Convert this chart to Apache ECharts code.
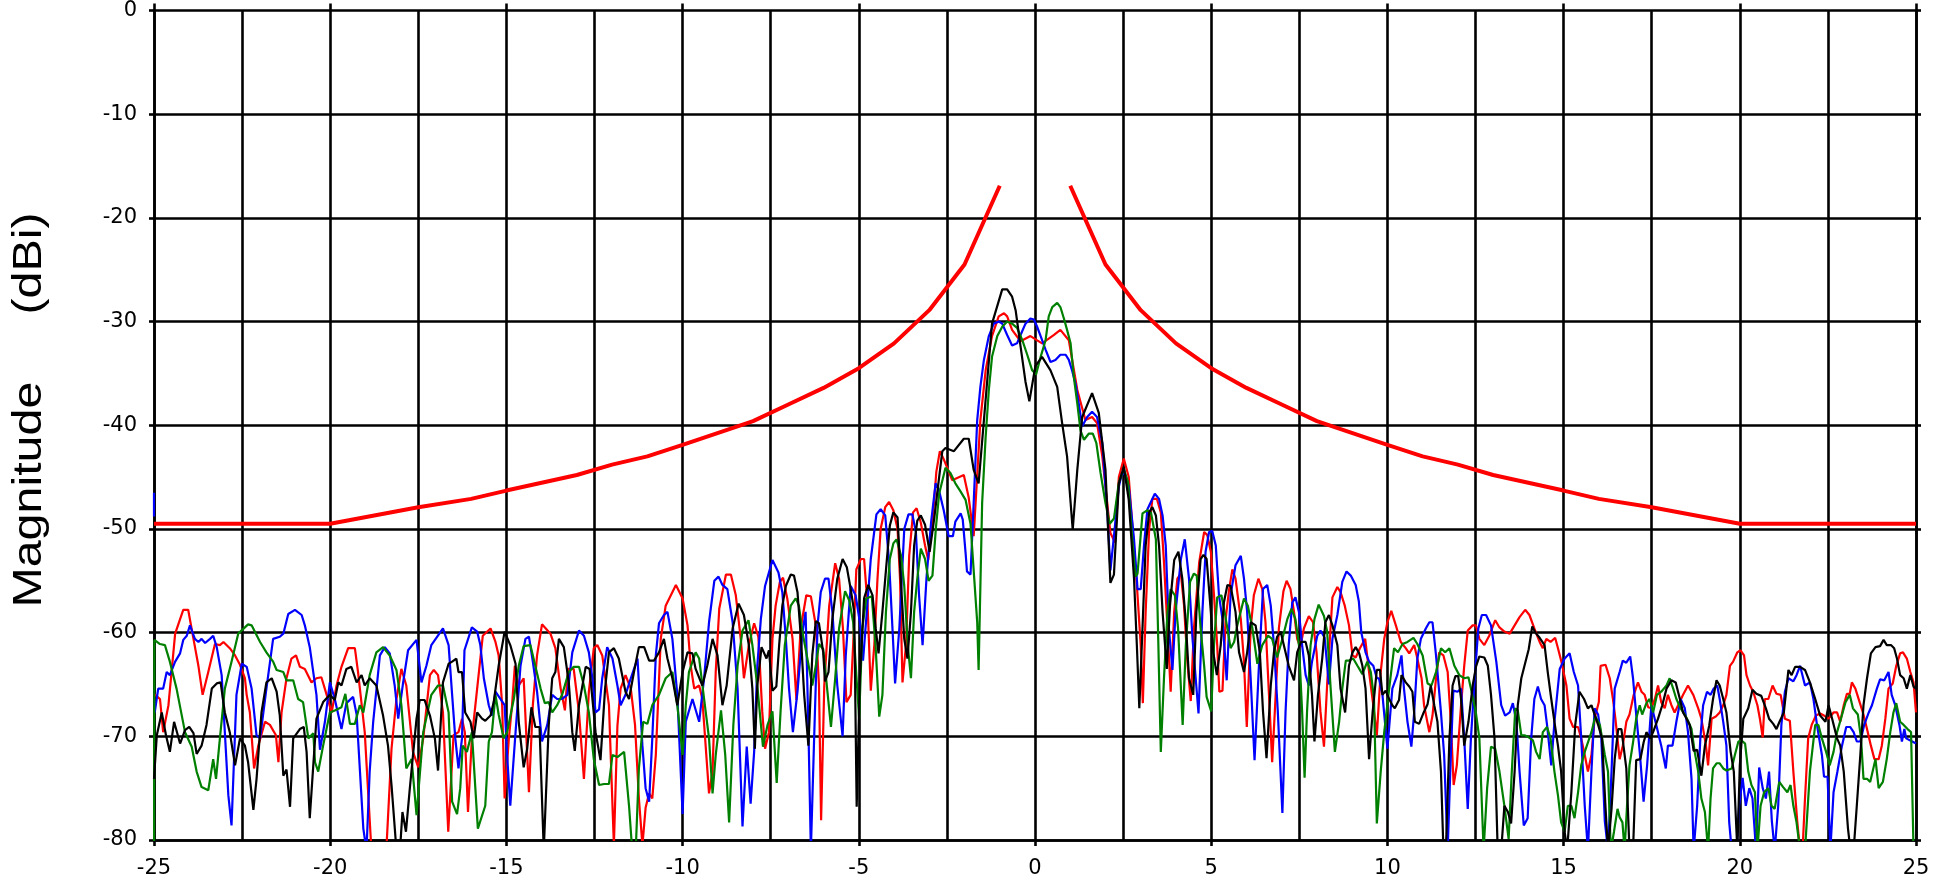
<!DOCTYPE html>
<html>
<head>
<meta charset="utf-8">
<script src="https://cdn.jsdelivr.net/npm/echarts@6/dist/echarts.min.js"></script>
<style>
html,body{margin:0;padding:0;background:#fff;}
#chart{width:1939px;height:879px;}
</style>
</head>
<body>
<div id="chart"></div>
<script>
// Axis ticks
const xMin = -25, xMax = 25, xGridStep = 2.5, xLabelStep = 5;
const yMin = -80, yMax = 0, yStep = 10;
const yTitle = 'Magnitude     (dBi)';

// Mask (thick red envelope); null = gap
const maskAngle = [-25,-20,-17.5,-16,-15,-13,-12,-11,-10,-8,-7,-6,-5,-4,-3,-2,-1,0,1,2,3,4,5,6,7,8,10,11,12,13,15,16,17.5,20,25];
const maskLevel = [-49.5,-49.5,-47.9,-47.1,-46.3,-44.8,-43.8,-43.0,-41.9,-39.6,-38.0,-36.4,-34.5,-32.1,-28.9,-24.5,-16.9,null,-16.9,-24.5,-28.9,-32.1,-34.5,-36.4,-38.0,-39.6,-41.9,-43.0,-43.8,-44.8,-46.3,-47.1,-47.9,-49.5,-49.5];

// Measured traces: [angle, dBi]  ('-' = gap)
const redTrace = [[-25.00,-65.9],[-24.83,-66.4],[-24.74,-69.6],[-24.59,-67.0],[-24.40,-60.1],[-24.17,-57.8],[-24.03,-57.8],[-23.88,-60.6],[-23.74,-63.2],[-23.62,-66.0],[-23.46,-63.8],[-23.27,-61.1],[-23.13,-61.2],[-23.03,-60.9],[-22.85,-61.5],[-22.70,-62.2],[-22.56,-63.1],[-22.42,-64.4],[-22.37,-66.0],[-22.28,-67.7],[-22.16,-73.1],[-22.04,-70.9],[-21.85,-68.6],[-21.71,-68.9],[-21.54,-69.9],[-21.47,-72.5],[-21.38,-67.7],[-21.24,-64.4],[-21.10,-62.5],[-20.97,-62.2],[-20.86,-63.3],[-20.72,-63.5],[-20.53,-64.8],[-20.39,-64.4],[-20.25,-64.3],[-20.10,-66.0],[-19.96,-67.7],[-19.82,-65.1],[-19.68,-63.3],[-19.49,-61.5],[-19.30,-61.5],[-19.21,-63.8],[-19.02,-69.6],[-18.83,-81],[-18.59,-81],[-18.40,-80.5],[-18.26,-71.2],[-18.12,-66.4],[-17.98,-63.5],[-17.84,-65.1],[-17.65,-71.5],[-17.50,-73.0],[-17.36,-70.2],[-17.17,-64.1],[-17.06,-63.6],[-16.94,-64.1],[-16.80,-67.7],[-16.65,-79.2],
[-16.50,-69.9],[-16.36,-69.6],[-16.26,-68.3],[-16.18,-69.6],[-16.09,-77.3],[-15.98,-70.2],[-15.83,-65.4],[-15.67,-60.3],[-15.45,-59.6],[-15.31,-60.9],[-15.22,-62.2],[-15.12,-67.0],[-15.05,-76.0],[-14.93,-70.2],[-14.84,-67.0],[-14.76,-63.2],[-14.65,-65.1],[-14.51,-64.4],[-14.36,-75.4],[-14.25,-67.0],[-14.13,-62.2],[-13.99,-59.2],[-13.75,-60.1],[-13.61,-61.5],[-13.46,-65.4],[-13.34,-67.5],[-13.25,-63.5],[-13.09,-63.5],[-12.94,-67.7],[-12.80,-74.1],[-12.66,-65.7],[-12.52,-61.5],[-12.42,-61.2],[-12.28,-62.2],[-12.09,-67.0],[-11.95,-80.5],[-11.85,-69.0],[-11.76,-65.4],[-11.62,-64.1],[-11.47,-65.4],[-11.35,-68.9],[-11.24,-76.0],[-11.14,-80.5],[-11.05,-76.9],[-10.95,-75.5],[-10.86,-76.0],[-10.76,-71.8],[-10.62,-60.6],[-10.48,-57.4],[-10.19,-55.4],[-10.00,-56.7],[-9.86,-59.3],[-9.77,-63.2],[-9.67,-65.4],[-9.53,-65.1],[-9.44,-66.4],[-9.25,-75.5],[-9.15,-73.4],[-9.06,-63.8],[-8.96,-57.7],[-8.77,-54.4],[-8.63,-54.4],[-8.49,-56.4],[-8.35,-60.6],
[-8.26,-64.4],[-8.12,-61.2],[-7.97,-59.1],[-7.85,-60.4],[-7.74,-67.6],[-7.66,-71.2],[-7.55,-69.6],[-7.45,-60.6],[-7.36,-57.4],[-7.24,-55.1],[-7.15,-54.7],[-7.03,-56.7],[-6.88,-60.6],[-6.77,-66.5],[-6.65,-59.6],[-6.49,-56.4],[-6.36,-56.5],[-6.22,-59.3],[-6.13,-65.1],[-6.07,-78.1],[-5.98,-65.1],[-5.84,-57.4],[-5.67,-53.3],[-5.56,-54.8],[-5.45,-59.6],[-5.35,-66.7],[-5.23,-66.0],[-5.16,-61.2],[-5.07,-53.9],[-4.94,-52.9],[-4.85,-52.9],[-4.75,-57.4],[-4.66,-65.6],[-4.56,-61.2],[-4.47,-54.8],[-4.38,-50.0],[-4.25,-47.9],[-4.14,-47.4],[-4.02,-48.2],[-3.90,-50.0],[-3.83,-54.8],[-3.76,-64.8],[-3.66,-61.2],[-3.57,-52.6],[-3.46,-48.4],[-3.36,-48.0],[-3.24,-49.4],[-3.12,-51.6],[-3.03,-53.0],[-2.91,-49.4],[-2.80,-44.5],
[-2.70,-42.5],[-2.60,-43.2],[-2.35,-45.3],[-2.02,-44.8],[-1.88,-47.0],[-1.74,-50.7],[-1.55,-39.5],[-1.40,-34.7],[-1.22,-31.4],[-1.03,-29.5],[-0.88,-29.2],[-0.79,-29.5],[-0.65,-30.8],[-0.41,-31.9],[-0.13,-31.4],[0.20,-32.1],[0.53,-31.3],[0.72,-30.8],[0.96,-31.8],[1.20,-36.6],[1.43,-39.5],[1.62,-39.2],[1.76,-39.8],[1.91,-43.0],[2.14,-50.4],[2.27,-51.3],[2.38,-45.0],[2.52,-43.2],[2.66,-45.0],[2.90,-55.9],[3.00,-61.2],[3.06,-66.8],[3.14,-58.0],[3.24,-50.0],[3.33,-47.1],[3.46,-47.1],[3.57,-48.4],[3.66,-53.2],[3.76,-59.6],[3.85,-65.7],[3.95,-58.0],[4.04,-54.8],[4.14,-54.3],[4.23,-57.4],[4.32,-62.6],[4.42,-66.6],[4.51,-59.6],[4.66,-53.2],[4.80,-50.3],[4.89,-50.6],[4.99,-52.2],[5.08,-56.4],[5.17,-61.2],[5.23,-65.7],[5.32,-65.6],[5.41,-58.7],[5.51,-55.8],[5.60,-53.9],[5.69,-54.8],[5.84,-58.7],[5.93,-62.8],[6.01,-69.1],[6.12,-59.6],[6.21,-56.4],[6.34,-54.8],[6.45,-55.8],[6.54,-59.0],[6.64,-66.0],[6.73,-72.5],[6.83,-66.0],[6.92,-59.6],[7.05,-56.0],[7.14,-55.0],[7.25,-55.8],[7.35,-58.0],[7.44,-60.6],[7.53,-61.4],[7.63,-59.6],[7.77,-58.4],[7.89,-59.0],[7.99,-61.9],[8.10,-67.6],[8.20,-71.0],[8.29,-65.0],
[8.44,-56.6],[8.58,-55.6],[8.67,-56.1],[8.79,-57.4],[8.91,-59.3],[9.01,-62.2],[9.10,-62.4],[9.22,-61.5],[9.37,-60.6],[9.48,-63.8],[9.60,-67.0],[9.70,-69.9],[9.81,-63.8],[9.91,-60.6],[10.00,-59.0],[10.11,-57.9],[10.24,-59.3],[10.38,-60.9],[10.52,-61.5],[10.62,-62.0],[10.76,-61.2],[10.85,-62.5],[10.97,-64.4],[11.04,-67.0],[11.19,-69.6],[11.28,-68.0],[11.38,-64.4],[11.47,-61.9],[11.59,-62.2],[11.71,-63.8],[11.80,-68.6],[11.88,-74.7],[11.97,-72.8],[12.09,-67.0],[12.18,-63.2],[12.28,-59.8],[12.42,-59.3],[12.51,-59.3],[12.61,-60.6],[12.75,-61.2],[12.89,-60.3],[13.06,-58.8],[13.18,-59.5],[13.32,-59.9],[13.47,-60.1],[13.61,-59.3],[13.75,-58.5],[13.91,-57.8],[14.03,-58.3],[14.17,-59.6],[14.32,-60.9],[14.41,-61.5],[14.51,-60.6],[14.63,-60.9],[14.76,-60.5],[14.84,-61.5],[14.93,-62.7],[15.08,-65.1],[15.17,-68.3],[15.27,-69.1],[15.41,-69.1],[15.50,-70.2],[15.60,-71.8],[15.69,-73.4],[15.79,-71.8],[15.88,-68.3],[16.00,-66.7],[16.05,-63.2],[16.19,-63.1],[16.31,-64.4],[16.40,-66.4],[16.47,-68.3],[16.59,-72.2],
[16.68,-70.9],[16.78,-68.6],[16.87,-67.9],[16.99,-66.0],[17.11,-64.8],[17.21,-65.7],[17.30,-66.0],[17.40,-67.2],[17.49,-67.3],[17.59,-66.4],[17.68,-65.1],[17.77,-66.7],[17.87,-67.3],[17.96,-66.0],[18.06,-67.0],[18.15,-67.7],[18.25,-67.0],[18.39,-66.0],[18.53,-65.1],[18.68,-66.0],[18.82,-67.3],[18.91,-68.3],[19.04,-70.9],[19.10,-72.8],[19.20,-68.3],[19.32,-68.1],[19.43,-67.7],[19.53,-67.0],[19.62,-66.0],[19.72,-63.2],[19.81,-62.8],[19.93,-61.9],[20.02,-61.7],[20.12,-62.2],[20.19,-64.1],[20.29,-65.1],[20.38,-65.7],[20.50,-67.0],[20.57,-68.3],[20.65,-70.1],[20.71,-66.4],[20.81,-66.4],[20.93,-65.1],[21.04,-65.9],[21.16,-66.0],[21.28,-68.3],[21.42,-68.5],[21.52,-73.4],[21.63,-78.2],[21.71,-81],[21.78,-81],[21.85,-76.0],[21.94,-70.2],[22.04,-68.9],[22.16,-68.0],[22.28,-67.8],[22.39,-68.0],[22.52,-68.3],[22.66,-67.7],[22.76,-67.7],[22.85,-68.6],[22.95,-67.0],[23.04,-65.9],[23.12,-65.9],[23.18,-64.8],[23.28,-65.4],[23.40,-66.7],[23.51,-67.9],[23.61,-69.3],[23.72,-70.9],[23.82,-72.2],[23.94,-72.2],[24.03,-70.9],[24.13,-68.3],[24.22,-65.4],[24.34,-64.9],[24.44,-63.2],[24.55,-62.0],[24.63,-61.9],[24.74,-62.5],[24.84,-63.8],[24.93,-64.8],[25.00,-67.7]];

const blueTrace = [[-25.00,-46.5],[-25.00,-48.8],[-25.00,'-'],[-24.98,-67.7],[-24.88,-65.4],[-24.74,-65.4],[-24.64,-63.8],[-24.55,-64.1],[-24.40,-62.8],[-24.26,-62.0],[-24.17,-60.7],[-24.07,-60.3],[-23.98,-59.3],[-23.84,-60.6],[-23.74,-60.9],[-23.65,-60.6],[-23.55,-61.0],[-23.41,-60.6],[-23.32,-60.3],[-23.22,-61.4],[-23.08,-64.1],[-22.89,-75.7],[-22.80,-78.6],[-22.66,-66.0],[-22.51,-63.0],[-22.37,-63.3],[-22.23,-65.4],[-22.09,-69.9],[-21.99,-70.2],[-21.81,-65.4],[-21.62,-60.6],[-21.43,-60.4],[-21.33,-60.1],[-21.19,-58.2],[-21.00,-57.8],[-20.81,-58.3],[-20.72,-59.3],[-20.58,-61.4],[-20.39,-66.0],[-20.29,-71.3],[-20.15,-68.6],[-20.01,-64.8],[-19.87,-66.4],[-19.68,-69.3],[-19.54,-66.8],[-19.35,-66.2],[-19.25,-67.9],[-19.06,-78.9],[-18.97,-81],[-18.88,-73.4],[-18.78,-68.6],[-18.59,-62.2],[-18.45,-61.4],[-18.31,-62.0],[-18.17,-65.1],[-18.07,-68.3],[-17.93,-64.8],[-17.79,-61.7],[-17.55,-60.7],[-17.41,-64.8],[-17.27,-63.2],[-17.13,-61.2],[-16.80,-59.6],
[-16.64,-61.2],[-16.54,-66.0],[-16.45,-70.2],[-16.36,-73.1],[-16.26,-70.2],[-16.19,-61.7],[-15.98,-59.5],[-15.83,-59.9],[-15.74,-61.2],[-15.64,-64.4],[-15.50,-67.0],[-15.41,-68.0],[-15.31,-65.7],[-15.17,-66.4],[-15.05,-67.0],[-14.98,-71.8],[-14.89,-76.7],[-14.74,-69.6],[-14.60,-63.2],[-14.46,-60.6],[-14.36,-60.4],[-14.25,-62.8],[-14.13,-65.7],[-13.99,-70.5],[-13.84,-68.9],[-13.70,-66.0],[-13.56,-66.4],[-13.42,-66.4],[-13.27,-66.0],[-13.13,-61.9],[-12.94,-59.8],[-12.80,-60.3],[-12.66,-61.9],[-12.56,-64.4],[-12.47,-67.7],[-12.37,-67.4],[-12.28,-64.4],[-12.14,-61.4],[-11.99,-62.5],[-11.85,-65.1],[-11.76,-67.0],[-11.62,-66.0],[-11.47,-64.4],[-11.28,-62.5],[-11.14,-70.9],[-11.05,-75.0],[-10.95,-76.3],[-10.86,-70.2],[-10.76,-62.2],[-10.67,-59.1],[-10.53,-58.3],[-10.43,-58.0],[-10.29,-60.6],[-10.15,-66.0],[-10.00,-77.5],[-9.91,-68.6],[-9.72,-66.4],[-9.53,-68.6],[-9.39,-64.4],[-9.25,-59.0],[-9.10,-55.0],[-8.98,-54.6],[-8.87,-55.4],[-8.73,-55.8],[-8.58,-59.0],[-8.44,-65.4],
[-8.30,-78.7],[-8.18,-71.0],[-8.07,-76.5],[-7.97,-71.5],[-7.88,-63.2],[-7.78,-58.7],[-7.66,-55.5],[-7.45,-53.0],[-7.28,-54.2],[-7.17,-56.1],[-7.07,-60.6],[-6.98,-65.4],[-6.87,-69.6],[-6.74,-65.7],[-6.60,-60.0],[-6.51,-58.0],[-6.43,-69.2],[-6.36,-81],[-6.27,-70.5],[-6.17,-59.3],[-6.08,-56.1],[-5.96,-54.8],[-5.86,-54.8],[-5.75,-58.0],[-5.61,-65.1],[-5.46,-70.0],[-5.37,-62.2],[-5.23,-55.5],[-5.09,-56.4],[-4.97,-59.0],[-4.88,-62.7],[-4.78,-58.3],[-4.66,-52.9],[-4.50,-48.6],[-4.38,-48.1],[-4.25,-48.7],[-4.14,-53.2],[-4.04,-59.9],[-3.97,-64.9],[-3.85,-59.6],[-3.71,-50.0],[-3.59,-48.6],[-3.48,-48.6],[-3.38,-50.3],[-3.29,-56.4],[-3.19,-61.2],[-3.08,-54.8],[-2.95,-49.4],
[-2.82,-45.6],[-2.73,-46.2],[-2.59,-48.2],[-2.45,-50.7],[-2.33,-50.7],[-2.26,-49.3],[-2.11,-48.5],[-2.05,-49.1],[-1.97,-52.3],[-1.93,-54.1],[-1.83,-54.4],[-1.74,-47.5],[-1.64,-39.5],[-1.55,-36.3],[-1.45,-33.7],[-1.31,-31.4],[-1.17,-30.2],[-1.03,-30.0],[-0.93,-30.2],[-0.79,-31.3],[-0.65,-32.3],[-0.51,-32.1],[-0.41,-31.3],[-0.27,-30.2],[-0.13,-29.7],[-0.03,-29.8],[0.06,-30.5],[0.16,-31.4],[0.30,-32.7],[0.44,-33.9],[0.58,-33.7],[0.72,-33.2],[0.87,-33.2],[0.96,-33.7],[1.05,-34.7],[1.15,-36.0],[1.24,-37.9],[1.34,-40.1],[1.48,-39.2],[1.62,-38.7],[1.76,-39.2],[1.91,-41.7],[2.05,-48.2],[2.14,-54.0],[2.24,-50.7],[2.38,-45.9],[2.47,-44.6],[2.57,-44.8],[2.66,-45.9],[2.81,-51.0],[2.91,-55.8],[3.00,-55.8],[3.10,-51.3],[3.19,-48.1],[3.40,-46.6],[3.52,-47.1],[3.62,-48.7],[3.71,-51.6],[3.80,-59.6],[3.90,-63.6],[3.99,-58.0],[4.14,-52.9],[4.25,-51.0],[4.37,-54.8],[4.47,-60.6],[4.56,-64.4],[4.64,-67.8],[4.75,-58.0],[4.84,-52.2],[4.94,-50.3],[5.03,-50.2],[5.13,-51.6],[5.22,-56.4],[5.32,-58.7],[5.44,-64.6],[5.55,-56.4],[5.69,-53.5],[5.84,-52.6],[5.93,-54.8],[6.02,-58.0],[6.12,-64.4],[6.23,-72.3],[6.36,-62.8],[6.47,-55.8],[6.59,-55.4],[6.69,-57.4],[6.78,-61.2],[6.89,-67.6],[7.02,-77.4],[7.11,-67.6],[7.20,-61.2],[7.30,-57.1],[7.39,-56.6],[7.49,-58.0],[7.58,-61.2],[7.68,-64.1],[7.77,-65.1],[7.86,-62.8],[8.01,-60.3],[8.10,-59.8],[8.22,-60.5],[8.34,-65.0],
[8.44,-60.6],[8.58,-58.3],[8.72,-55.1],[8.84,-54.1],[8.96,-54.5],[9.10,-55.4],[9.19,-57.0],[9.26,-60.0],[9.38,-61.9],[9.48,-62.8],[9.60,-63.2],[9.70,-64.4],[9.76,-64.4],[9.86,-66.0],[10.00,-71.2],[10.14,-65.4],[10.28,-64.1],[10.40,-62.2],[10.47,-65.4],[10.57,-68.6],[10.68,-71.0],[10.76,-67.7],[10.85,-62.5],[10.95,-60.6],[11.09,-59.6],[11.19,-59.0],[11.28,-59.0],[11.38,-62.2],[11.52,-67.7],[11.61,-71.8],[11.71,-81],[11.80,-71.8],[11.87,-65.6],[11.99,-65.7],[12.09,-65.4],[12.18,-70.2],[12.28,-77.0],[12.37,-70.2],[12.49,-63.8],[12.58,-59.6],[12.68,-58.3],[12.80,-58.3],[12.94,-59.3],[13.09,-62.8],[13.23,-67.0],[13.34,-68.0],[13.47,-67.7],[13.56,-66.8],[13.66,-68.6],[13.75,-73.4],[13.87,-78.6],[13.98,-77.9],[14.08,-70.2],[14.17,-66.4],[14.27,-65.2],[14.36,-66.4],[14.46,-67.0],[14.53,-68.9],[14.65,-72.8],[14.74,-68.6],[14.89,-63.5],[15.03,-62.5],[15.17,-62.0],[15.29,-63.8],[15.41,-65.1],[15.50,-70.2],[15.60,-76.7],[15.69,-81],[15.79,-73.4],[15.88,-67.3],[15.98,-67.9],[16.07,-70.2],[16.17,-78.2],[16.26,-81],[16.36,-73.4],[16.45,-65.4],[16.59,-63.8],
[16.68,-62.7],[16.78,-62.9],[16.89,-62.3],[16.97,-64.4],[17.06,-67.9],[17.16,-71.5],[17.27,-76.3],[17.37,-72.8],[17.49,-67.0],[17.63,-68.9],[17.77,-70.9],[17.90,-73.1],[17.96,-70.9],[18.09,-70.9],[18.20,-68.6],[18.32,-66.4],[18.44,-67.3],[18.53,-69.6],[18.63,-74.1],[18.69,-81],[18.79,-76.7],[18.88,-70.2],[18.96,-67.0],[19.07,-65.7],[19.17,-66.0],[19.26,-65.4],[19.36,-65.1],[19.43,-66.4],[19.53,-68.6],[19.62,-70.9],[19.70,-78.3],[19.77,-81],[19.91,-81],[19.98,-76.7],[20.08,-74.0],[20.17,-76.7],[20.27,-75.0],[20.36,-76.0],[20.46,-81],[20.55,-73.0],[20.65,-75.0],[20.74,-76.0],[20.83,-73.4],[20.91,-78.2],[20.99,-81],[21.09,-76.7],[21.18,-68.9],[21.28,-65.7],[21.38,-64.4],[21.52,-64.7],[21.61,-64.1],[21.71,-63.2],[21.85,-65.1],[21.99,-64.8],[22.09,-66.4],[22.19,-68.9],[22.33,-71.8],[22.39,-73.9],[22.49,-73.9],[22.57,-81],[22.66,-75.4],[22.77,-73.4],[22.90,-70.9],[23.02,-69.1],[23.13,-69.1],[23.23,-69.6],[23.32,-70.5],[23.42,-70.5],[23.53,-68.9],[23.66,-67.7],[23.75,-67.0],[23.89,-65.4],[23.98,-64.5],[24.10,-64.6],[24.22,-63.8],[24.31,-66.0],[24.41,-67.0],[24.53,-68.9],[24.60,-70.5],[24.67,-69.3],[24.72,-70.2],[24.84,-70.4],[25.00,-70.7]];

const greenTrace = [[-25.00,-85],[-24.99,-60.7],[-24.83,-61.1],[-24.69,-61.2],[-24.55,-62.8],[-24.36,-65.4],[-24.12,-69.6],[-23.93,-71.0],[-23.79,-73.4],[-23.65,-74.9],[-23.46,-75.2],[-23.32,-72.2],[-23.24,-74.1],[-23.13,-70.2],[-22.99,-65.4],[-22.80,-62.8],[-22.61,-60.1],[-22.33,-59.2],[-22.23,-59.3],[-21.99,-60.9],[-21.81,-61.9],[-21.62,-62.8],[-21.52,-63.6],[-21.33,-63.8],[-21.24,-64.6],[-21.05,-64.6],[-20.91,-66.4],[-20.77,-66.7],[-20.62,-70.2],[-20.48,-69.7],[-20.43,-72.5],[-20.34,-73.4],[-20.20,-70.9],[-20.01,-67.7],[-19.87,-67.5],[-19.68,-67.2],[-19.57,-65.9],[-19.44,-68.8],[-19.30,-68.8],[-19.16,-67.0],[-19.06,-67.7],[-18.88,-64.1],[-18.69,-61.9],[-18.50,-61.4],[-18.31,-62.2],[-18.12,-63.6],[-17.98,-67.0],[-17.84,-73.1],[-17.69,-72.2],[-17.55,-77.6],[-17.36,-69.6],[-17.13,-66.0],[-16.94,-65.1],[-16.80,-65.1],
[-16.64,-67.7],[-16.54,-76.3],[-16.40,-77.5],[-16.31,-75.0],[-16.24,-70.9],[-16.12,-71.5],[-15.98,-69.6],[-15.81,-78.9],[-15.60,-76.7],[-15.50,-70.5],[-15.41,-69.6],[-15.31,-66.0],[-15.22,-67.9],[-15.08,-70.2],[-14.98,-69.6],[-14.79,-66.4],[-14.65,-63.2],[-14.51,-61.3],[-14.32,-61.2],[-14.18,-63.2],[-14.03,-65.4],[-13.91,-66.8],[-13.80,-66.7],[-13.70,-67.7],[-13.56,-67.0],[-13.42,-66.0],[-13.23,-63.8],[-13.09,-63.3],[-12.94,-63.3],[-12.80,-65.1],[-12.66,-67.7],[-12.52,-72.2],[-12.37,-74.7],[-12.23,-74.6],[-12.09,-74.6],[-11.99,-71.8],[-11.85,-72.0],[-11.66,-71.5],[-11.52,-76.7],[-11.43,-81],[-11.33,-81],[-11.24,-73.1],[-11.12,-68.6],[-11.00,-68.8],[-10.86,-67.0],[-10.67,-66.0],[-10.48,-64.4],[-10.29,-63.8],[-10.15,-67.0],[-10.00,-71.8],[-9.91,-67.0],[-9.82,-63.8],[-9.63,-61.9],[-9.53,-62.5],[-9.39,-66.4],[-9.25,-70.2],[-9.15,-75.5],[-9.06,-71.8],[-8.91,-67.5],[-8.79,-71.8],[-8.68,-78.3],[-8.56,-68.9],[-8.44,-63.2],[-8.30,-59.8],
[-8.13,-58.8],[-8.02,-61.2],[-7.88,-65.1],[-7.72,-71.0],[-7.59,-68.9],[-7.45,-67.6],[-7.33,-74.5],[-7.22,-67.6],[-7.10,-61.2],[-6.93,-57.4],[-6.79,-56.7],[-6.70,-57.4],[-6.60,-59.9],[-6.46,-62.5],[-6.32,-65.1],[-6.22,-63.2],[-6.13,-61.1],[-6.01,-61.6],[-5.89,-65.7],[-5.79,-69.1],[-5.67,-64.4],[-5.56,-59.6],[-5.39,-56.0],[-5.27,-56.9],[-5.16,-59.0],[-5.07,-64.1],[-4.99,-68.3],[-4.90,-59.6],[-4.79,-56.7],[-4.63,-56.5],[-4.52,-61.5],[-4.42,-68.1],[-4.33,-66.0],[-4.23,-58.0],[-4.12,-52.9],[-4.02,-51.4],[-3.93,-51.0],[-3.80,-52.6],[-3.71,-55.5],[-3.61,-61.2],[-3.52,-64.4],[-3.43,-58.0],[-3.34,-54.8],[-3.24,-51.9],[-3.12,-52.9],[-3.02,-55.0],[-2.91,-54.5],[-2.81,-49.8],[-2.72,-46.6],
[-2.54,-44.1],[-2.40,-44.6],[-2.26,-45.6],[-2.11,-46.4],[-1.97,-47.2],[-1.83,-49.5],[-1.74,-54.0],[-1.64,-59.0],[-1.60,-63.6],[-1.50,-47.5],[-1.40,-41.1],[-1.31,-36.6],[-1.22,-33.4],[-1.07,-31.4],[-0.93,-30.5],[-0.79,-30.0],[-0.65,-30.2],[-0.51,-30.6],[-0.36,-31.8],[-0.22,-33.2],[-0.08,-34.7],[0.03,-35.1],[0.16,-33.4],[0.30,-31.8],[0.39,-29.5],[0.49,-28.6],[0.63,-28.2],[0.72,-28.6],[0.82,-29.7],[0.91,-30.8],[1.01,-32.1],[1.10,-35.3],[1.20,-37.9],[1.29,-40.5],[1.39,-41.4],[1.53,-40.8],[1.64,-40.8],[1.74,-41.7],[1.86,-44.6],[2.00,-47.5],[2.12,-49.5],[2.24,-49.0],[2.38,-45.5],[2.52,-44.2],[2.64,-45.5],[2.76,-51.0],[2.85,-54.6],[2.91,-54.3],[3.05,-48.5],[3.19,-48.2],[3.29,-48.4],[3.43,-51.0],[3.49,-59.6],[3.57,-71.5],[3.66,-64.4],[3.76,-58.0],[3.85,-55.8],[3.97,-56.4],[4.06,-59.6],[4.19,-68.9],[4.28,-61.2],[4.40,-55.1],[4.51,-54.3],[4.59,-54.5],[4.70,-59.6],[4.80,-63.2],[4.87,-66.2],[5.00,-67.6],[5.08,-61.2],[5.17,-56.6],[5.29,-56.4],[5.38,-58.0],[5.46,-59.6],[5.55,-61.5],[5.65,-60.9],[5.74,-59.3],[5.93,-56.7],[6.04,-57.4],[6.17,-59.6],[6.31,-63.0],[6.45,-61.2],[6.61,-60.3],[6.73,-60.6],[6.87,-62.4],[7.02,-60.6],[7.16,-58.7],[7.28,-57.7],[7.39,-58.7],[7.49,-61.2],[7.58,-67.6],[7.65,-74.0],[7.72,-67.6],[7.82,-61.2],[7.93,-58.7],[8.05,-57.3],[8.20,-58.4],[8.29,-59.9],
[8.39,-65.4],[8.51,-71.5],[8.63,-68.6],[8.72,-65.4],[8.82,-62.7],[8.91,-62.7],[9.03,-62.5],[9.15,-63.2],[9.29,-64.0],[9.43,-62.8],[9.53,-63.8],[9.62,-66.4],[9.70,-78.4],[9.81,-73.4],[9.91,-69.6],[10.05,-65.4],[10.19,-61.5],[10.30,-61.9],[10.43,-61.1],[10.57,-60.9],[10.74,-60.5],[10.85,-61.1],[11.00,-62.2],[11.14,-64.9],[11.25,-65.1],[11.38,-63.8],[11.52,-61.5],[11.64,-61.9],[11.76,-61.5],[11.90,-63.2],[12.04,-64.1],[12.18,-64.4],[12.30,-64.3],[12.37,-65.4],[12.51,-67.7],[12.61,-70.2],[12.73,-81],[12.83,-75.0],[12.94,-71.0],[13.06,-71.2],[13.18,-73.4],[13.32,-76.7],[13.44,-79.9],[13.53,-73.4],[13.63,-67.3],[13.70,-67.5],[13.80,-69.9],[13.89,-69.9],[14.01,-70.1],[14.13,-70.4],[14.22,-71.5],[14.32,-72.2],[14.41,-69.6],[14.53,-69.1],[14.63,-70.2],[14.74,-73.4],[14.84,-75.7],[14.93,-78.3],[15.03,-79.2],[15.12,-76.7],[15.22,-76.7],[15.31,-77.9],[15.41,-75.4],[15.50,-72.8],[15.60,-71.5],[15.79,-69.6],[15.90,-68.1],[16.03,-68.9],[16.17,-71.8],[16.26,-73.4],[16.34,-81],[16.43,-79.2],[16.53,-77.0],
[16.59,-77.8],[16.67,-78.3],[16.73,-81],[16.80,-76.7],[16.87,-72.8],[16.97,-70.6],[17.06,-68.3],[17.16,-67.0],[17.23,-67.9],[17.35,-66.8],[17.44,-66.4],[17.54,-67.7],[17.65,-66.0],[17.77,-65.7],[17.92,-65.1],[18.01,-64.4],[18.11,-65.4],[18.20,-66.4],[18.32,-67.3],[18.44,-67.9],[18.53,-68.5],[18.63,-69.3],[18.72,-71.5],[18.82,-73.4],[18.91,-76.0],[19.01,-77.3],[19.10,-81],[19.17,-76.0],[19.24,-73.1],[19.34,-72.6],[19.43,-72.6],[19.53,-73.1],[19.62,-73.3],[19.77,-73.1],[19.86,-71.8],[19.96,-70.5],[20.05,-70.4],[20.15,-70.7],[20.24,-73.4],[20.33,-74.7],[20.43,-75.4],[20.50,-81],[20.59,-76.7],[20.69,-75.4],[20.81,-75.0],[20.90,-76.7],[20.99,-77.0],[21.12,-74.4],[21.23,-74.9],[21.35,-75.4],[21.44,-74.7],[21.52,-76.7],[21.61,-78.3],[21.71,-81],[21.85,-81],[21.99,-73.4],[22.14,-68.9],[22.23,-68.9],[22.33,-70.2],[22.45,-71.5],[22.55,-72.8],[22.66,-71.5],[22.76,-69.6],[22.87,-68.3],[23.00,-66.7],[23.12,-66.0],[23.21,-67.3],[23.35,-67.9],[23.44,-70.2],[23.51,-74.1],[23.61,-74.1],[23.70,-74.4],[23.85,-72.2],[23.94,-75.0],[24.06,-74.4],[24.17,-72.2],[24.27,-69.6],[24.36,-67.7],[24.44,-66.8],[24.55,-68.6],[24.65,-68.9],[24.76,-69.3],[24.86,-69.6],[24.93,-81],[25.00,-85]];

const blackTrace = [[-25.00,-74.1],[-24.92,-69.9],[-24.78,-67.7],[-24.66,-69.9],[-24.55,-71.5],[-24.43,-68.6],[-24.26,-70.7],[-24.12,-69.4],[-24.00,-69.1],[-23.88,-69.7],[-23.79,-71.7],[-23.65,-70.9],[-23.51,-68.9],[-23.36,-65.4],[-23.22,-64.9],[-23.11,-64.8],[-22.99,-67.7],[-22.85,-69.6],[-22.70,-72.8],[-22.56,-70.2],[-22.42,-70.9],[-22.33,-72.5],[-22.18,-77.1],[-22.09,-74.1],[-21.95,-67.7],[-21.81,-64.8],[-21.66,-64.4],[-21.52,-65.7],[-21.43,-68.0],[-21.33,-73.8],[-21.24,-73.2],[-21.14,-76.8],[-21.05,-70.2],[-20.86,-69.3],[-20.75,-69.1],[-20.67,-71.5],[-20.58,-77.9],[-20.48,-72.8],[-20.39,-68.3],[-20.20,-66.7],[-20.01,-66.0],[-19.87,-66.5],[-19.77,-64.8],[-19.68,-65.1],[-19.54,-63.5],[-19.40,-63.3],[-19.25,-64.8],[-19.11,-64.1],[-19.02,-65.1],[-18.88,-64.4],[-18.69,-65.1],[-18.50,-68.0],[-18.36,-70.9],[-18.26,-74.7],[-18.12,-81],[-18.02,-81],[-17.95,-77.3],[-17.85,-79.2],[-17.74,-75.0],[-17.65,-71.8],[-17.55,-68.3],[-17.46,-66.5],[-17.32,-66.5],[-17.17,-68.0],[-17.03,-70.2],[-16.94,-73.3],[-16.80,-64.8],[-16.64,-63.0],
[-16.54,-62.8],[-16.42,-62.5],[-16.36,-63.8],[-16.26,-63.8],[-16.17,-67.7],[-16.02,-68.6],[-15.93,-70.2],[-15.83,-67.7],[-15.69,-68.3],[-15.60,-68.5],[-15.45,-68.0],[-15.36,-66.7],[-15.22,-63.2],[-15.05,-59.9],[-14.89,-61.2],[-14.74,-63.0],[-14.65,-68.6],[-14.51,-73.0],[-14.41,-71.2],[-14.29,-67.2],[-14.18,-69.1],[-14.06,-69.1],[-13.94,-81],[-13.80,-69.0],[-13.70,-64.4],[-13.61,-63.8],[-13.51,-60.6],[-13.37,-61.4],[-13.23,-64.8],[-13.13,-69.6],[-13.06,-71.4],[-12.94,-67.0],[-12.75,-63.3],[-12.64,-63.5],[-12.47,-69.6],[-12.33,-72.3],[-12.20,-65.4],[-12.09,-61.9],[-11.95,-61.5],[-11.81,-62.5],[-11.62,-65.7],[-11.52,-66.4],[-11.38,-63.8],[-11.24,-61.4],[-11.09,-61.4],[-10.95,-62.7],[-10.81,-62.7],[-10.67,-61.9],[-10.53,-60.6],[-10.43,-62.5],[-10.29,-64.4],[-10.15,-67.0],[-10.00,-63.8],[-9.86,-61.9],[-9.72,-62.0],[-9.63,-63.5],[-9.44,-65.1],[-9.30,-63.2],[-9.15,-60.6],[-9.01,-62.2],[-8.87,-67.0],[-8.75,-65.1],[-8.58,-59.6],[-8.41,-57.2],
[-8.26,-58.3],[-8.12,-61.2],[-8.02,-65.4],[-7.95,-71.2],[-7.88,-65.1],[-7.76,-61.4],[-7.62,-62.5],[-7.55,-61.7],[-7.45,-65.6],[-7.34,-65.2],[-7.26,-61.2],[-7.17,-57.4],[-7.07,-55.5],[-6.93,-54.4],[-6.84,-54.5],[-6.74,-56.1],[-6.64,-60.6],[-6.55,-66.0],[-6.43,-70.9],[-6.32,-62.2],[-6.22,-58.9],[-6.13,-59.1],[-6.01,-61.9],[-5.96,-64.7],[-5.86,-63.8],[-5.75,-58.7],[-5.61,-54.8],[-5.46,-52.9],[-5.34,-53.7],[-5.23,-55.8],[-5.13,-58.0],[-5.06,-76.8],[-4.97,-64.4],[-4.85,-56.7],[-4.73,-55.4],[-4.61,-56.4],[-4.52,-59.6],[-4.44,-62.0],[-4.33,-58.0],[-4.21,-53.2],[-4.12,-49.7],[-4.02,-48.4],[-3.90,-48.9],[-3.81,-54.8],[-3.71,-60.6],[-3.62,-62.5],[-3.52,-58.0],[-3.43,-51.6],[-3.34,-49.2],[-3.24,-48.7],[-3.12,-49.6],[-2.99,-52.2],[-2.86,-49.0],[-2.77,-46.4],
[-2.63,-42.5],[-2.54,-42.2],[-2.30,-42.5],[-2.02,-41.3],[-1.88,-41.3],[-1.74,-44.3],[-1.60,-45.6],[-1.41,-37.9],[-1.22,-30.2],[-0.93,-26.9],[-0.79,-26.9],[-0.65,-27.6],[-0.55,-28.9],[-0.41,-32.4],[-0.27,-35.8],[-0.16,-37.7],[0.01,-34.3],[0.20,-33.4],[0.44,-34.7],[0.63,-36.3],[0.77,-39.8],[0.91,-43.0],[1.07,-50.1],[1.20,-44.3],[1.34,-39.2],[1.62,-36.9],[1.81,-38.8],[2.00,-44.3],[2.14,-55.2],[2.24,-54.4],[2.38,-45.6],[2.52,-44.0],[2.66,-47.2],[2.81,-54.8],[2.89,-61.2],[2.96,-67.3],[3.05,-59.6],[3.14,-51.6],[3.24,-48.4],[3.33,-47.9],[3.43,-48.7],[3.52,-51.6],[3.62,-58.0],[3.74,-63.5],[3.83,-57.4],[3.95,-53.0],[4.07,-52.2],[4.18,-54.8],[4.28,-59.0],[4.37,-64.4],[4.49,-66.0],[4.58,-58.0],[4.70,-52.9],[4.78,-52.5],[4.87,-52.9],[4.99,-58.0],[5.06,-61.9],[5.16,-64.1],[5.27,-61.2],[5.36,-57.1],[5.46,-55.4],[5.55,-55.5],[5.69,-58.0],[5.79,-61.9],[5.93,-63.8],[6.02,-61.9],[6.12,-59.0],[6.26,-59.3],[6.38,-61.9],[6.47,-67.6],[6.57,-72.1],[6.69,-65.1],[6.78,-61.9],[6.87,-60.4],[6.97,-59.9],[7.06,-61.2],[7.20,-63.2],[7.35,-64.6],[7.44,-61.9],[7.55,-60.9],[7.68,-60.9],[7.77,-62.2],[7.86,-66.0],[7.93,-70.5],[8.03,-66.0],[8.15,-62.5],[8.24,-59.0],[8.34,-58.3],
[8.44,-59.3],[8.58,-61.2],[8.67,-65.4],[8.80,-67.7],[8.91,-63.2],[9.01,-61.9],[9.10,-61.4],[9.20,-62.0],[9.29,-63.2],[9.38,-65.4],[9.48,-72.2],[9.58,-67.7],[9.70,-63.6],[9.79,-63.6],[9.86,-66.0],[9.95,-65.6],[10.05,-66.4],[10.14,-67.0],[10.21,-67.3],[10.33,-66.5],[10.40,-64.1],[10.52,-64.8],[10.62,-65.2],[10.71,-65.7],[10.78,-68.6],[10.90,-68.8],[11.03,-67.7],[11.14,-66.9],[11.23,-65.1],[11.33,-67.0],[11.42,-68.6],[11.52,-73.4],[11.59,-81],[11.66,-81],[11.76,-70.2],[11.85,-65.1],[11.93,-64.2],[12.01,-64.2],[12.09,-66.4],[12.18,-70.9],[12.30,-68.6],[12.42,-65.1],[12.52,-63.2],[12.61,-62.3],[12.75,-62.4],[12.85,-63.2],[12.94,-66.0],[13.04,-70.2],[13.13,-81],[13.23,-81],[13.32,-76.7],[13.42,-77.3],[13.51,-78.4],[13.61,-73.4],[13.70,-67.0],[13.80,-64.4],[13.89,-63.2],[14.01,-61.6],[14.11,-59.4],[14.20,-60.0],[14.32,-60.5],[14.46,-61.2],[14.55,-63.8],[14.65,-66.4],[14.74,-68.6],[14.84,-70.9],[14.93,-73.4],[15.03,-79.2],[15.10,-81],[15.22,-75.4],[15.33,-68.9],[15.45,-65.7],[15.58,-66.4],[15.69,-67.3],[15.79,-67.0],[15.88,-67.9],[15.98,-68.9],[16.09,-70.2],[16.19,-76.9],[16.26,-81],[16.36,-77.0],[16.45,-72.2],[16.55,-69.3],[16.64,-69.3],
[16.78,-73.1],[16.87,-81],[16.97,-81],[17.06,-72.3],[17.18,-72.2],[17.27,-70.6],[17.35,-69.6],[17.46,-70.2],[17.54,-69.6],[17.68,-68.3],[17.80,-67.0],[17.92,-65.4],[18.06,-64.6],[18.18,-64.8],[18.30,-66.4],[18.39,-67.7],[18.49,-68.3],[18.58,-68.9],[18.69,-71.4],[18.79,-71.3],[18.91,-73.8],[19.01,-70.9],[19.13,-69.0],[19.24,-66.4],[19.34,-64.6],[19.43,-65.1],[19.53,-66.4],[19.62,-67.7],[19.74,-71.5],[19.83,-73.4],[19.93,-81],[20.00,-72.8],[20.10,-68.3],[20.24,-67.3],[20.36,-65.5],[20.47,-65.9],[20.61,-66.1],[20.74,-67.3],[20.83,-68.3],[20.95,-68.8],[21.04,-69.3],[21.14,-68.5],[21.25,-67.7],[21.38,-63.6],[21.47,-64.1],[21.57,-63.3],[21.71,-63.3],[21.85,-63.6],[21.99,-64.8],[22.14,-66.4],[22.28,-68.0],[22.43,-68.6],[22.52,-67.0],[22.62,-68.3],[22.76,-70.2],[22.85,-70.9],[22.95,-73.4],[23.07,-78.9],[23.14,-81],[23.23,-81],[23.32,-76.7],[23.42,-71.8],[23.51,-67.0],[23.61,-64.4],[23.72,-62.0],[23.85,-61.4],[23.98,-61.3],[24.08,-60.7],[24.17,-61.2],[24.29,-61.2],[24.38,-61.5],[24.46,-62.5],[24.55,-64.1],[24.65,-64.4],[24.74,-65.4],[24.84,-64.1],[24.93,-65.2],[25.00,-65.4]];

// ---- chart ----
const chart = echarts.init(document.getElementById('chart'), null, {renderer: 'canvas'});
const LABEL_FONT = 'DejaVu Sans';
const black = '#000000';
const GRID_W = 2.6;
const maskData = maskAngle.map((a, i) => [a, maskLevel[i] === null ? '-' : maskLevel[i]]);

function traceSeries(data, color) {
  return {
    type: 'line', data: data, xAxisIndex: 0, yAxisIndex: 0,
    symbol: 'none', showSymbol: false, clip: true, smooth: false, connectNulls: false,
    lineStyle: {color: color, width: 2.2}, itemStyle: {color: color},
    emphasis: {disabled: true}
  };
}

const option = {
  animation: false,
  backgroundColor: '#ffffff',
  grid: {left: 154, right: 23, top: 10, bottom: 37, containLabel: false},
  xAxis: [
    {
      type: 'value', min: xMin, max: xMax, interval: xGridStep, position: 'bottom',
      axisLine: {show: true, onZero: false, lineStyle: {color: black, width: GRID_W}},
      axisTick: {show: false},
      axisLabel: {
        show: true, margin: 18, color: black, fontSize: 21, fontFamily: LABEL_FONT,
        showMinLabel: true, showMaxLabel: true,
        formatter: v => (Math.abs(v % xLabelStep) < 1e-6 ? String(v) : '')
      },
      splitLine: {show: true, lineStyle: {color: black, width: GRID_W}}
    },
    {
      type: 'value', min: xMin, max: xMax, interval: xLabelStep, position: 'bottom',
      axisLine: {show: false, onZero: false},
      axisTick: {show: true, inside: false, length: 6, lineStyle: {color: black, width: GRID_W}},
      axisLabel: {show: false}, splitLine: {show: false}
    },
    {
      type: 'value', min: xMin, max: xMax, interval: xLabelStep, position: 'top',
      axisLine: {show: false, onZero: false},
      axisTick: {show: true, inside: false, length: 7, lineStyle: {color: black, width: GRID_W}},
      axisLabel: {show: false}, splitLine: {show: false}
    }
  ],
  yAxis: [
    {
      type: 'value', min: yMin, max: yMax, interval: yStep, position: 'left',
      axisLine: {show: true, onZero: false, lineStyle: {color: black, width: GRID_W}},
      axisTick: {show: true, inside: false, length: 5, lineStyle: {color: black, width: GRID_W}},
      axisLabel: {show: true, margin: 17, color: black, fontSize: 21, fontFamily: LABEL_FONT},
      splitLine: {show: true, lineStyle: {color: black, width: GRID_W}}
    },
    {
      type: 'value', min: yMin, max: yMax, interval: yStep, position: 'right',
      axisLine: {show: true, onZero: false, lineStyle: {color: black, width: GRID_W}},
      axisTick: {show: true, inside: false, length: 5, lineStyle: {color: black, width: GRID_W}},
      axisLabel: {show: false}, splitLine: {show: false}
    }
  ],
  graphic: [{
    type: 'text', x: 30, y: 410, rotation: Math.PI / 2, scaleX: 1.24, scaleY: 1.05,
    silent: true,
    style: {
      text: yTitle, fontSize: 39, fontFamily: 'Liberation Sans', fill: black,
      align: 'center', verticalAlign: 'middle', textAlign: 'center', textVerticalAlign: 'middle'
    }
  }],
  series: [
    traceSeries(redTrace, '#ff0000'),
    traceSeries(blueTrace, '#0000ff'),
    traceSeries(greenTrace, '#008000'),
    traceSeries(blackTrace, '#000000'),
    {
      type: 'line', data: maskData, xAxisIndex: 0, yAxisIndex: 0,
      symbol: 'none', showSymbol: false, connectNulls: false, clip: true,
      lineStyle: {color: '#ff0000', width: 4}, itemStyle: {color: '#ff0000'},
      emphasis: {disabled: true}, z: 5
    }
  ]
};
chart.setOption(option);
</script>
</body>
</html>
